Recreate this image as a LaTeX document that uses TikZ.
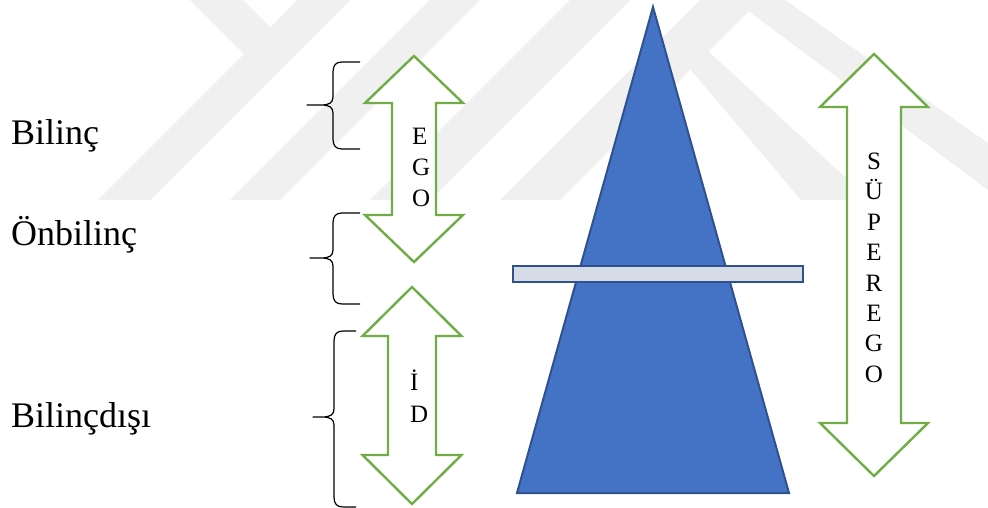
\documentclass[tikz,border=0pt]{standalone}
\usepackage{fontspec}
\setmainfont{Liberation Serif}
\definecolor{wm}{RGB}{240,240,240}
\definecolor{agreen}{RGB}{112,173,71}
\definecolor{tblue}{RGB}{68,114,196}
\definecolor{tedge}{RGB}{47,82,143}
\definecolor{barfill}{RGB}{214,220,229}
% double vertical arrow: cx, top, bottom, head half-width, shaft half-width, head length
\newcommand{\udarrow}[6]{%
  \draw[garrow] (#1,#2) -- ({#1+#4},{#2+#6}) -- ({#1+#5},{#2+#6}) -- ({#1+#5},{#3-#6})
    -- ({#1+#4},{#3-#6}) -- (#1,#3) -- ({#1-#4},{#3-#6}) -- ({#1-#5},{#3-#6})
    -- ({#1-#5},{#2+#6}) -- ({#1-#4},{#2+#6}) -- cycle;}
% left curly brace: ends x, body x, tip x, top, middle, bottom
\newcommand{\wbrace}[6]{%
  \draw[bracel] (#1,#4) -- ({#2+9},#4) .. controls ({#2+3},#4) and (#2,{#4+3}) .. (#2,{#4+10})
    -- (#2,{#5-8}) .. controls (#2,{#5-2}) and ({#2-4},#5) .. ({#2-12},#5) -- (#3,#5)
    -- ({#2-12},#5) .. controls ({#2-4},#5) and (#2,{#5+2}) .. (#2,{#5+8})
    -- (#2,{#6-10}) .. controls (#2,{#6-3}) and ({#2+3},#6) .. ({#2+9},#6) -- (#1,#6);}
\begin{document}
\begin{tikzpicture}[x=1pt,y=-1pt,
  wmark/.style={fill=wm,draw=none},
  garrow/.style={draw=agreen,fill=white,line width=2.4pt,line join=miter},
  bracel/.style={draw=black,line width=1.2pt,line join=round},
  lbl/.style={anchor=base west,inner sep=0pt,font=\fontsize{36}{43}\selectfont},
  lett/.style={anchor=base west,inner sep=0pt,font=\fontsize{25}{29}\selectfont},
  lettc/.style={anchor=base,inner sep=0pt,font=\fontsize{25}{29}\selectfont},
  tri/.style={fill=tblue,draw=tedge,line width=2pt,line join=miter},
  barbox/.style={fill=barfill,draw=tedge,line width=2pt}]
\useasboundingbox (0,0) rectangle (988,508);
\fill[white] (0,0) rectangle (988,508);
% watermark
\fill[wmark] (190,0) -- (244,54) -- (98,200) -- (150,200) -- (350,0) -- (297,0) -- (270.5,27.5) -- (243,0) -- cycle;
\fill[wmark] (230,200) -- (280,200) -- (480,0) -- (430,0) -- cycle;
\fill[wmark] (370,200) -- (430,200) -- (630,0) -- (570,0) -- cycle;
\fill[wmark] (500,200) -- (560,200) -- (760,0) -- (700,0) -- cycle;
\fill[wmark] (663,37) -- (801,200) -- (870,200) -- (707,50) -- cycle;
\fill[wmark] (747,10) -- (988,190) -- (988,143) -- (785,0) -- (740,0) -- cycle;
% left labels
\node[lbl] (bilinc) at (11,145) {Bilinç};
\node[lbl] (onbilinc) at (11,245) {Önbilinç};
\node[lbl] (bilincdisi) at (11,427) {Bilinçdışı};
% braces
\wbrace{360}{333}{307}{62}{105}{149}
\wbrace{360}{333}{310}{213}{258}{304}
\wbrace{356}{334}{313}{331}{417}{507}
% arrows
\udarrow{414}{56}{262}{49}{22}{47}
\udarrow{412}{287}{504}{49.5}{24}{49}
\udarrow{874}{54}{476}{54}{27}{53}
% arrow letters
\foreach \l [count=\i] in {E,G,O}
  \node[lett] (ego\i) at (412,{145+30.5*(\i-1)}) {\l};
\node[lett] (id1) at (410,390) {İ};
\node[lett] (id2) at (410,422) {D};
\foreach \l [count=\i] in {S,Ü,P,E,R,E,G,O}
  \node[lettc] (sup\i) at (874,{169.5+30.4*(\i-1)}) {\l};
% triangle and bar
\draw[tri] (653,7) -- (789,493) -- (517,493) -- cycle;
\draw[barbox] (513,266) rectangle (803,282);
\end{tikzpicture}
\end{document}
